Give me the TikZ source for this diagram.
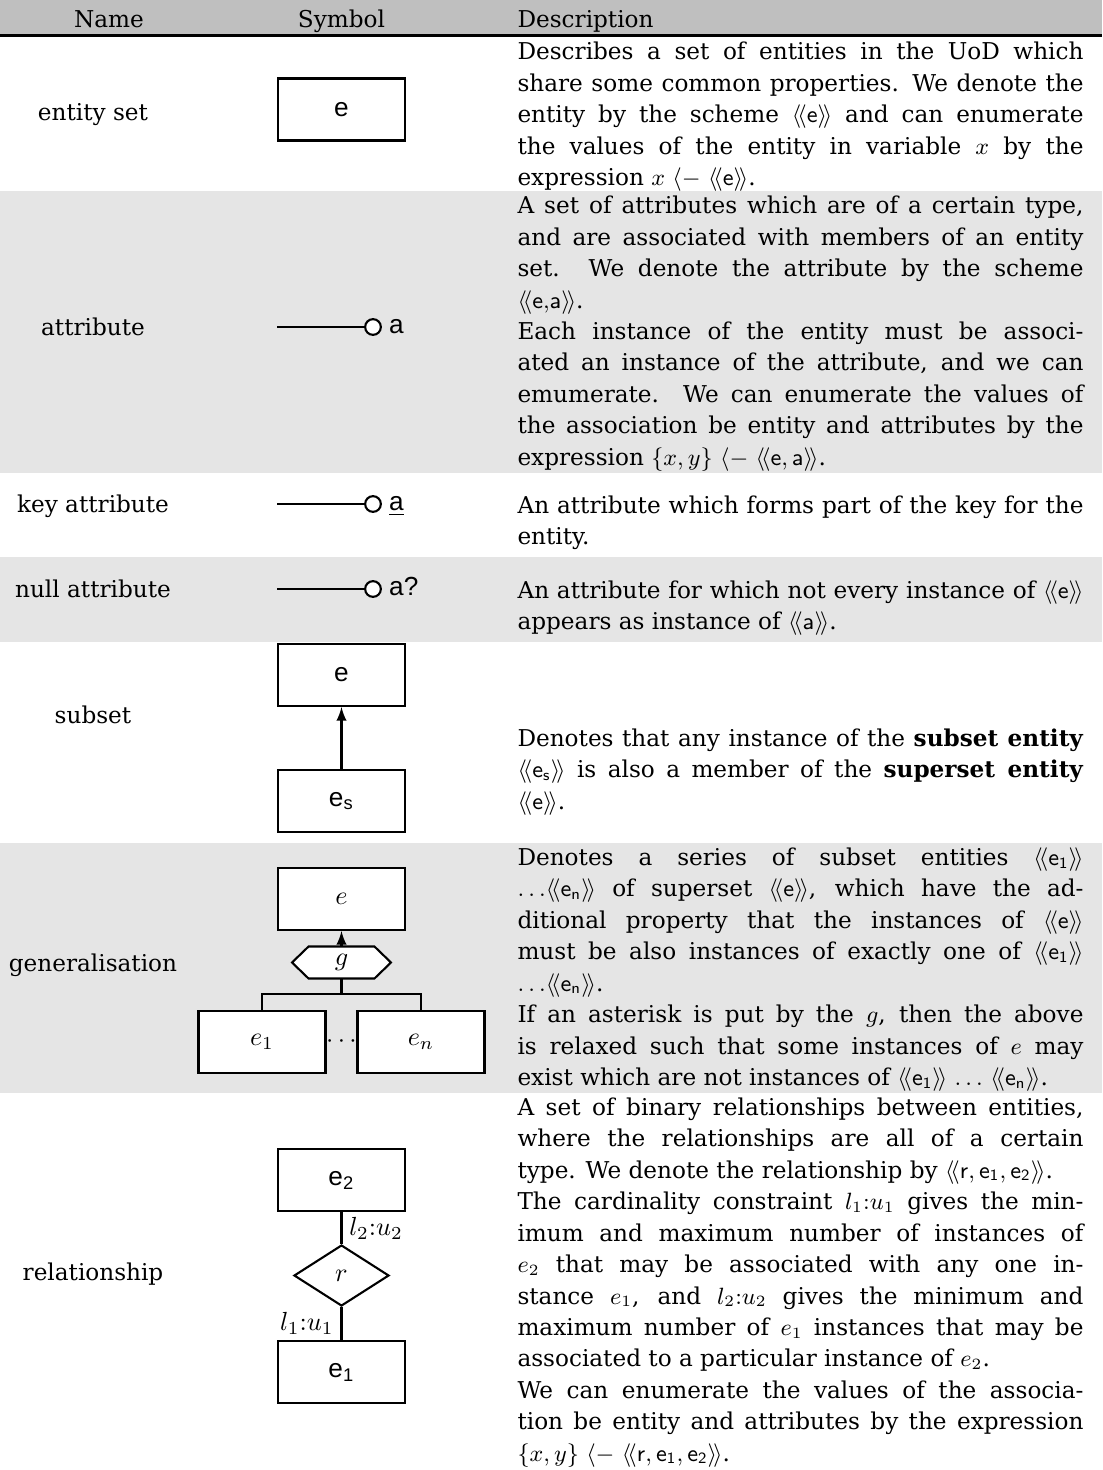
\documentclass[tikz,border=0pt]{standalone}
\usepackage[no-math]{fontspec}
\setmainfont{DejaVu Serif}
\setsansfont{Liberation Sans}
\usetikzlibrary{positioning,shapes.geometric}

\definecolor{headgray}{gray}{0.75}
\definecolor{rowgray}{gray}{0.9}
\newcommand{\rowfont}{\fontsize{8.85}{12}\selectfont}
\newcommand{\symfont}{\sffamily\fontsize{10}{12}\selectfont}
\newcommand{\sch}[1]{\ensuremath{\langle\!\langle #1\rangle\!\rangle}}
\newcommand{\getsfrom}{\ensuremath{\langle-}}

\begin{document}
\begin{tikzpicture}[x=0.382pt,y=-0.382pt,
  entitybox/.style={draw,thick,fill=white,minimum width=48.5pt,minimum height=23.7pt,inner sep=0pt,font=\symfont},
  attrdot/.style={draw,thick,circle,fill=white,minimum size=6pt,inner sep=0pt},
  attrname/.style={inner sep=0pt,text height=5.2pt,text depth=0pt,font=\symfont},
  relbox/.style={draw,thick,diamond,fill=white,minimum width=36.3pt,minimum height=23.3pt,inner sep=0pt,font=\symfont},
  hexlabel/.style={minimum width=24.8pt,minimum height=11.8pt,inner sep=0pt},
  card/.style={inner sep=0pt,font=\symfont},
  namecell/.style={inner sep=0pt,anchor=base,font=\rowfont},
  desccell/.style={anchor=north west,inner sep=0pt,text width=216.2pt,align=justify,font=\rowfont}]
  \useasboundingbox (0,0) rectangle (1102,1470);
  % bands
  \fill[headgray] (0,0) rectangle (1102,35);
  \foreach \ya/\yb in {191/473,557/642,843/1093}
    \fill[rowgray] (0,\ya) rectangle (1102,\yb);
  \draw[line width=1.1pt] (0,35.7) -- (1102,35.7);

  % header
  \node[namecell] (hname) at (109,27) {Name};
  \node[namecell] (hsym) at (341.5,27) {Symbol};
  \node[namecell,anchor=base west] (hdesc) at (517,27) {Description};

  % entity set
  \node[namecell] (nentity) at (93,120) {entity set};
  \node[entitybox] (eset) at (341.5,109.5) {e};
  \node[desccell] (dentity) at (517,37.3) {\strut Describes a set of entities in the UoD which\linebreak
    share some common properties. We denote the\linebreak
    entity by the scheme \sch{\mathsf{e}} and can enumerate\linebreak
    the values of the entity in variable $x$ by the\linebreak
    expression $x$ \getsfrom{} \sch{\mathsf{e}}.};

  % attribute
  \node[namecell] (nattr) at (93,335) {attribute};
  \coordinate (aline) at (277,327);
  \node[attrdot] (adot) at (373,327) {};
  \node[attrname,right=2.6pt of adot] (aname) {a};
  \draw[thick] (aline) -- (adot);
  \node[desccell] (dattr) at (517,191.3) {\strut A set of attributes which are of a certain type,\linebreak
    and are associated with members of an entity\linebreak
    set.  We denote the attribute by the scheme\linebreak
    \sch{\mathsf{e}{,}\mathsf{a}}.\par
    Each instance of the entity must be associ-\linebreak
    ated an instance of the attribute, and we can\linebreak
    emumerate. We can enumerate the values of\linebreak
    the association be entity and attributes by the\linebreak
    expression $\{x,y\}$ \getsfrom{} \sch{\mathsf{e},\mathsf{a}}.};

  % key attribute
  \node[namecell] (nkey) at (93,512) {key attribute};
  \coordinate (kline) at (277,504);
  \node[attrdot] (kdot) at (373,504) {};
  \node[attrname,right=2.6pt of kdot] (kname) {\underline{a}};
  \draw[thick] (kline) -- (kdot);
  \node[desccell] (dkey) at (517,491) {\strut An attribute which forms part of the key for the\linebreak
    entity.};

  % null attribute
  \node[namecell] (nnull) at (93,597) {null attribute};
  \coordinate (nline) at (277,589);
  \node[attrdot] (ndot) at (373,589) {};
  \node[attrname,right=2.6pt of ndot] (nname) {a?};
  \draw[thick] (nline) -- (ndot);
  \node[desccell] (dnull) at (517,576) {\strut An attribute for which not every instance of \sch{\mathsf{e}}\linebreak
    appears as instance of \sch{\mathsf{a}}.};

  % subset
  \node[namecell] (nsub) at (93,723) {subset};
  \node[entitybox] (ssup) at (341.5,675) {e};
  \node[entitybox] (ssub) at (341.5,801) {e\textsubscript{s}};
  \draw[thick,-latex] (ssub) -- (ssup);
  \node[desccell] (dsub) at (517,724) {\strut Denotes that any instance of the \textbf{subset entity}\linebreak
    \sch{\mathsf{e}_\mathsf{s}} is also a member of the \textbf{superset entity}\linebreak
    \sch{\mathsf{e}}.};

  % generalisation
  \node[namecell] (ngen) at (93,971) {generalisation};
  \node[entitybox] (gsup) at (341.5,899) {$e$};
  \node[hexlabel] (ghex) at (341.5,962.5) {};
  \draw[thick,fill=white] (ghex.north west) -- (ghex.north east) -- ([xshift=6.3pt]ghex.east)
    -- (ghex.south east) -- (ghex.south west) -- ([xshift=-6.3pt]ghex.west) -- cycle;
  \node[card] (gname) at (ghex) {$g$};
  \node[entitybox] (gsub1) at (262,1042) {$e_1$};
  \node[entitybox] (gsubn) at (421,1042) {$e_n$};
  \node[card] (gdots) at (341.5,1042) {$\cdots$};
  \coordinate (gjoin) at (341.5,994);
  \draw[thick,-latex] (ghex.north) -- (gsup.south);
  \draw[thick] (ghex.south) -- (gjoin);
  \draw[thick] (gsub1.north) |- (gjoin) -| (gsubn.north);
  \node[desccell] (dgen) at (517,843) {\strut Denotes a series of subset entities \sch{\mathsf{e}_\mathsf{1}}\linebreak
    $\ldots$\sch{\mathsf{e}_\mathsf{n}} of superset \sch{\mathsf{e}}, which have the ad-\linebreak
    ditional property that the instances of \sch{\mathsf{e}}\linebreak
    must be also instances of exactly one of \sch{\mathsf{e}_\mathsf{1}}\linebreak
    $\ldots$\sch{\mathsf{e}_\mathsf{n}}.\par
    If an asterisk is put by the $g$, then the above\linebreak
    is relaxed such that some instances of $e$ may\linebreak
    exist which are not instances of \sch{\mathsf{e}_\mathsf{1}} $\ldots$ \sch{\mathsf{e}_\mathsf{n}}.};

  % relationship
  \node[namecell] (nrel) at (93,1280) {relationship};
  \node[entitybox] (rtop) at (341.5,1180) {e\textsubscript{2}};
  \node[relbox] (rrel) at (341.5,1275.5) {$r$};
  \node[entitybox] (rbot) at (341.5,1372) {e\textsubscript{1}};
  \draw[thick] (rtop) -- node[card,right=2.6pt] {$l_2{:}u_2$} (rrel);
  \draw[thick] (rrel) -- node[card,left=2.6pt] {$l_1{:}u_1$} (rbot);
  \node[desccell] (drel) at (517,1093) {\strut A set of binary relationships between entities,\linebreak
    where the relationships are all of a certain\linebreak
    type. We denote the relationship by \sch{\mathsf{r},\mathsf{e}_\mathsf{1},\mathsf{e}_\mathsf{2}}.\par
    The cardinality constraint $l_1{:}u_1$ gives the min-\linebreak
    imum and maximum number of instances of\linebreak
    $e_2$ that may be associated with any one in-\linebreak
    stance $e_1$, and $l_2{:}u_2$ gives the minimum and\linebreak
    maximum number of $e_1$ instances that may be\linebreak
    associated to a particular instance of $e_2$.\par
    We can enumerate the values of the associa-\linebreak
    tion be entity and attributes by the expression\linebreak
    $\{x,y\}$ \getsfrom{} \sch{\mathsf{r},\mathsf{e}_\mathsf{1},\mathsf{e}_\mathsf{2}}.};
\end{tikzpicture}
\end{document}
